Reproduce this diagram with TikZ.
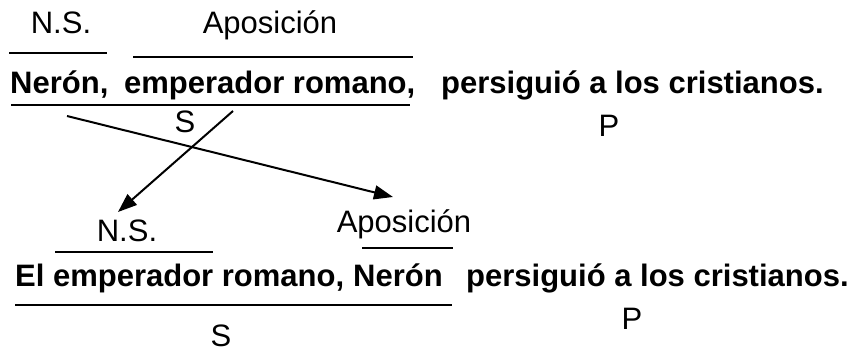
\documentclass[tikz,border=0pt]{standalone}
\usepackage{fontspec}
\setmainfont{Liberation Sans}
\usetikzlibrary{arrows.meta,positioning,calc}
\tikzstyle{tag}=[inner sep=0pt, anchor=base, text depth=0pt, font=\fontsize{31}{32}\selectfont]
\tikzstyle{sentence}=[inner sep=0pt, anchor=base west, font=\fontsize{31}{32}\selectfont\bfseries]
\tikzstyle{rule}=[line width=2pt]
\tikzstyle{myarrow}=[-{Triangle[length=19pt, width=14pt]}, line width=2pt]

\begin{document}
\begin{tikzpicture}[x=1pt, y=-1pt]
        \useasboundingbox (0,0) rectangle (867,352);

        % First sentence
        \node (ns1) [tag] at (61,34) {N.S.};
        \node (apos1) [tag] at (270,34) {Aposición};
        \node (neron1) [sentence] at (10,94) {Nerón,};
        \node (emperador1) [sentence] at (124,94) {emperador romano,};
        \node (persiguio1) [sentence] at (441,94) {persiguió a los cristianos.};
        \node (s1) [tag] at (185,133) {S};
        \node (p1) [tag] at (609,137) {P};

        \draw[rule] (9,53) -- (107,53);
        \draw[rule] (133,57) -- (413,57);
        \draw[rule] (11,105) -- (410,105);

        % Second sentence
        \node (ns2) [tag] at (127,242) {N.S.};
        \node (apos2) [tag] at (404,233) {Aposición};
        \node (emperador2) [sentence] at (15,287) {El emperador romano,};
        \node (neron2) [sentence] at (353,287) {Nerón};
        \node (persiguio2) [sentence] at (466,287) {persiguió a los cristianos.};
        \node (s2) [tag] at (221,347) {S};
        \node (p2) [tag] at (632,330) {P};

        \draw[rule] (55,252) -- (213,252);
        \draw[rule] (362,248) -- (453,248);
        \draw[rule] (15,305) -- (452,305);

        % Exchange of the two parts
        \coordinate (from1) at (67,116);
        \coordinate (to1) at (393,197);
        \coordinate (from2) at (233,111);
        \coordinate (to2) at (118,212);
        \draw[myarrow] (from1) -- (to1);
        \draw[myarrow] (from2) -- (to2);
\end{tikzpicture}
\end{document}
